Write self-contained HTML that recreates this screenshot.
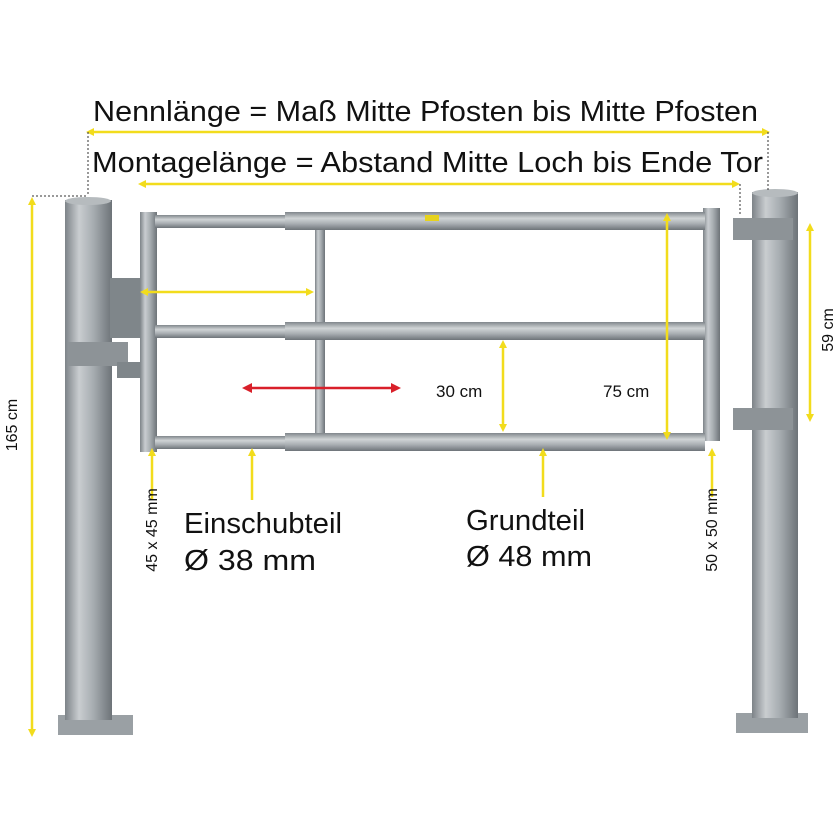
<!DOCTYPE html>
<html><head><meta charset="utf-8"><style>
html,body{margin:0;padding:0;background:#fff;}
svg{display:block;font-family:"Liberation Sans",sans-serif;}
</style></head><body>
<svg width="835" height="835" viewBox="0 0 835 835" xmlns="http://www.w3.org/2000/svg">
<defs>
<linearGradient id="pv" x1="0" x2="1" y1="0" y2="0">
<stop offset="0" stop-color="#7d8388"/><stop offset="0.3" stop-color="#c9cdd0"/><stop offset="0.6" stop-color="#a7adb1"/><stop offset="1" stop-color="#6d7378"/></linearGradient>
<linearGradient id="ph" x1="0" x2="0" y1="0" y2="1">
<stop offset="0" stop-color="#80868b"/><stop offset="0.35" stop-color="#d0d4d6"/><stop offset="0.65" stop-color="#a9aeb2"/><stop offset="1" stop-color="#6e7479"/></linearGradient>
<marker id="ay" markerWidth="8" markerHeight="8" refX="4" refY="4" orient="auto-start-reverse" markerUnits="userSpaceOnUse"><path d="M0,0 L8,4 L0,8 Z" fill="#f2dc1c"/></marker>
<marker id="ar" markerWidth="10" markerHeight="10" refX="5" refY="5" orient="auto-start-reverse" markerUnits="userSpaceOnUse"><path d="M0,0 L10,5 L0,10 Z" fill="#d9202a"/></marker>
</defs>
<rect width="835" height="835" fill="#fff"/>
<rect x="58" y="715" width="75" height="20" fill="#9aa0a4"/>
<rect x="65" y="200" width="47" height="520" fill="url(#pv)"/>
<ellipse cx="88" cy="201" rx="23" ry="4" fill="#b6bbbe"/>
<rect x="736" y="713" width="72" height="20" fill="#9aa0a4"/>
<rect x="752" y="192" width="46" height="526" fill="url(#pv)"/>
<ellipse cx="775" cy="193" rx="23" ry="4" fill="#b6bbbe"/>
<rect x="68" y="342" width="60" height="24" fill="#8d9397"/>
<rect x="110" y="278" width="30" height="60" fill="#7f868a"/>
<rect x="117" y="362" width="35" height="16" fill="#7f868a"/>
<rect x="733" y="218" width="60" height="22" fill="#8d9397"/>
<rect x="733" y="408" width="60" height="22" fill="#8d9397"/>
<rect x="140" y="212" width="17" height="240" fill="url(#pv)"/>
<rect x="703" y="208" width="17" height="233" fill="url(#pv)"/>
<rect x="315" y="225" width="10" height="215" fill="url(#pv)"/>
<rect x="155" y="215" width="135" height="13" fill="url(#ph)"/>
<rect x="285" y="212" width="420" height="18" fill="url(#ph)"/>
<rect x="155" y="325" width="135" height="13" fill="url(#ph)"/>
<rect x="285" y="322" width="420" height="18" fill="url(#ph)"/>
<rect x="155" y="436" width="135" height="13" fill="url(#ph)"/>
<rect x="285" y="433" width="420" height="18" fill="url(#ph)"/>
<rect x="425" y="215" width="14" height="6" fill="#e6d21e"/>
<g stroke="#f2dc1c" stroke-width="2.5" fill="none">
<line x1="90" y1="132" x2="766" y2="132" marker-start="url(#ay)" marker-end="url(#ay)"/>
<line x1="142" y1="184" x2="736" y2="184" marker-start="url(#ay)" marker-end="url(#ay)"/>
<line x1="32" y1="201" x2="32" y2="733" marker-start="url(#ay)" marker-end="url(#ay)"/>
<line x1="810" y1="227" x2="810" y2="418" marker-start="url(#ay)" marker-end="url(#ay)"/>
<line x1="667" y1="217" x2="667" y2="436" marker-start="url(#ay)" marker-end="url(#ay)"/>
<line x1="503" y1="344" x2="503" y2="428" marker-start="url(#ay)" marker-end="url(#ay)"/>
<line x1="144" y1="292" x2="310" y2="292" marker-start="url(#ay)" marker-end="url(#ay)"/>
<line x1="152" y1="500" x2="152" y2="452" marker-end="url(#ay)"/>
<line x1="252" y1="500" x2="252" y2="452" marker-end="url(#ay)"/>
<line x1="543" y1="497" x2="543" y2="452" marker-end="url(#ay)"/>
<line x1="712" y1="497" x2="712" y2="452" marker-end="url(#ay)"/>
</g>
<g stroke="#333" stroke-width="1" stroke-dasharray="2,2">
<line x1="32" y1="196" x2="88" y2="196"/><line x1="88" y1="132" x2="88" y2="196"/>
<line x1="768" y1="132" x2="768" y2="190"/><line x1="740" y1="184" x2="740" y2="215"/>
</g>
<line x1="247" y1="388" x2="396" y2="388" stroke="#d9202a" stroke-width="2.5" marker-start="url(#ar)" marker-end="url(#ar)"/>
<g fill="#111">
<text x="93" y="121" font-size="29" textLength="665" lengthAdjust="spacingAndGlyphs">Nennlänge = Maß Mitte Pfosten bis Mitte Pfosten</text>
<text x="92" y="172" font-size="29" textLength="671" lengthAdjust="spacingAndGlyphs">Montagelänge = Abstand Mitte Loch bis Ende Tor</text>
<text x="436" y="397" font-size="17">30 cm</text>
<text x="603" y="397" font-size="17">75 cm</text>
<text x="184" y="533" font-size="29" textLength="158" lengthAdjust="spacingAndGlyphs">Einschubteil</text>
<text x="184" y="570" font-size="29" textLength="132" lengthAdjust="spacingAndGlyphs">Ø 38 mm</text>
<text x="466" y="530" font-size="29" textLength="119" lengthAdjust="spacingAndGlyphs">Grundteil</text>
<text x="466" y="566" font-size="29" textLength="126" lengthAdjust="spacingAndGlyphs">Ø 48 mm</text>
<text transform="translate(17,425) rotate(-90)" font-size="16" text-anchor="middle">165 cm</text>
<text transform="translate(833,330) rotate(-90)" font-size="16" text-anchor="middle">59 cm</text>
<text transform="translate(157,530) rotate(-90)" font-size="16" text-anchor="middle">45 x 45 mm</text>
<text transform="translate(717,530) rotate(-90)" font-size="16" text-anchor="middle">50 x 50 mm</text>
</g>
</svg>
</body></html>
